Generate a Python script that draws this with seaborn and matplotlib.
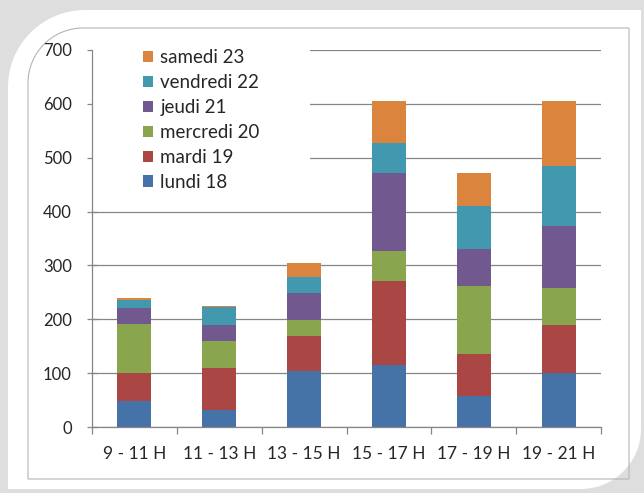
import numpy as np
import matplotlib
matplotlib.use("Agg")
import matplotlib.pyplot as plt
from matplotlib.patches import Polygon, Rectangle
import seaborn as sns

# data
creneaux = ["9 - 11 H", "11 - 13 H", "13 - 15 H", "15 - 17 H", "17 - 19 H", "19 - 21 H"]
jours = ["lundi 18", "mardi 19", "mercredi 20", "jeudi 21", "vendredi 22", "samedi 23"]
lundi = [48, 32, 104, 116, 58, 101]
mardi = [53, 78, 65, 155, 78, 88]
mercredi = [91, 49, 29, 55, 125, 70]
jeudi = [29, 30, 50, 146, 70, 114]
vendredi = [15, 33, 31, 56, 80, 111]
samedi = [3, 3, 26, 78, 60, 122]
series = [lundi, mardi, mercredi, jeudi, vendredi, samedi]
couleurs = ["#4572A7", "#AA4643", "#89A54E", "#71588F", "#4198AF", "#DB843D"]

sns.set_style("white")
plt.rcParams["font.family"] = ["Lato", "DejaVu Sans"]
text_col = "#262626"
axis_col = "#868686"

W, H = 644, 493
fig = plt.figure(figsize=(W / 100, H / 100), dpi=100)
fig.patch.set_facecolor("#dedede")


def rounded_shape(x0, y0, x1, y1, r_tl, r_br):
    # pixel coords (top-down) -> figure fraction, rounded top-left and bottom-right
    pts = [(x1, y0), (x1, y1 - r_br)]
    a = np.linspace(0, np.pi / 2, 20)
    pts += [(x1 - r_br + r_br * np.cos(t), y1 - r_br + r_br * np.sin(t)) for t in a]
    pts += [(x0, y1), (x0, y0 + r_tl)]
    a = np.linspace(np.pi, 1.5 * np.pi, 20)
    pts += [(x0 + r_tl + r_tl * np.cos(t), y0 + r_tl + r_tl * np.sin(t)) for t in a]
    return [(x / W, 1 - y / H) for x, y in pts]


card = Polygon(rounded_shape(8, 10, 641, 489, 77, 60), closed=True,
               transform=fig.transFigure, facecolor="white", edgecolor="none", zorder=-2)
fig.patches.append(card)
frame = Polygon(rounded_shape(28, 28, 629, 479, 55, 1), closed=True,
                transform=fig.transFigure, facecolor="none", edgecolor="#b4b4b4",
                linewidth=0.8, zorder=-1)
fig.patches.append(frame)

ax = fig.add_axes([92 / W, 1 - 427 / H, (601 - 92) / W, (427 - 50) / H])
ax.patch.set_visible(False)

bottom = np.zeros(len(creneaux))
for nom, vals, c in zip(jours, series, couleurs):
    sns.barplot(x=creneaux, y=vals, bottom=bottom, color=c, width=0.4,
                errorbar=None, label=nom, linewidth=0, saturation=1, ax=ax, zorder=2)
    bottom += np.array(vals)

ax.set_xlim(-0.5, 5.5)
ax.set_ylim(0, 700)
ax.set_yticks(range(0, 701, 100))
ax.set_axisbelow(True)
ax.yaxis.grid(True, color=axis_col, linewidth=0.9)
ax.xaxis.grid(False)

for s in ["top", "right"]:
    ax.spines[s].set_visible(False)
for s in ["left", "bottom"]:
    ax.spines[s].set_color(axis_col)
    ax.spines[s].set_linewidth(0.9)

ax.tick_params(axis="y", direction="inout", length=7, width=0.9, color=axis_col,
               labelsize=12, labelcolor=text_col, pad=11, left=True)
ax.set_xticks(np.arange(-0.5, 6, 1), minor=True)
ax.tick_params(axis="x", which="minor", direction="out", length=5, width=0.9,
               color=axis_col, bottom=True)
ax.tick_params(axis="x", which="major", length=0, labelsize=12.5,
               labelcolor=text_col, pad=14)
ax.set_xlabel("")
ax.set_ylabel("")

# white box behind the legend hides the gridlines
ax.add_patch(Rectangle((0, 0.6), 0.428, 0.44, transform=ax.transAxes,
                       facecolor="white", edgecolor="none", zorder=1, clip_on=False))

handles, labels = ax.get_legend_handles_labels()
leg = ax.legend(handles[::-1], labels[::-1], loc="upper left",
                bbox_to_anchor=(0.1, 1.002), frameon=False, borderpad=0,
                borderaxespad=0, fontsize=13.5, labelcolor=text_col,
                handlelength=0.53, handleheight=0.53, handletextpad=0.4,
                labelspacing=0.42)
leg.set_zorder(3)

fig.savefig("out.png", dpi=100, facecolor=fig.get_facecolor())
